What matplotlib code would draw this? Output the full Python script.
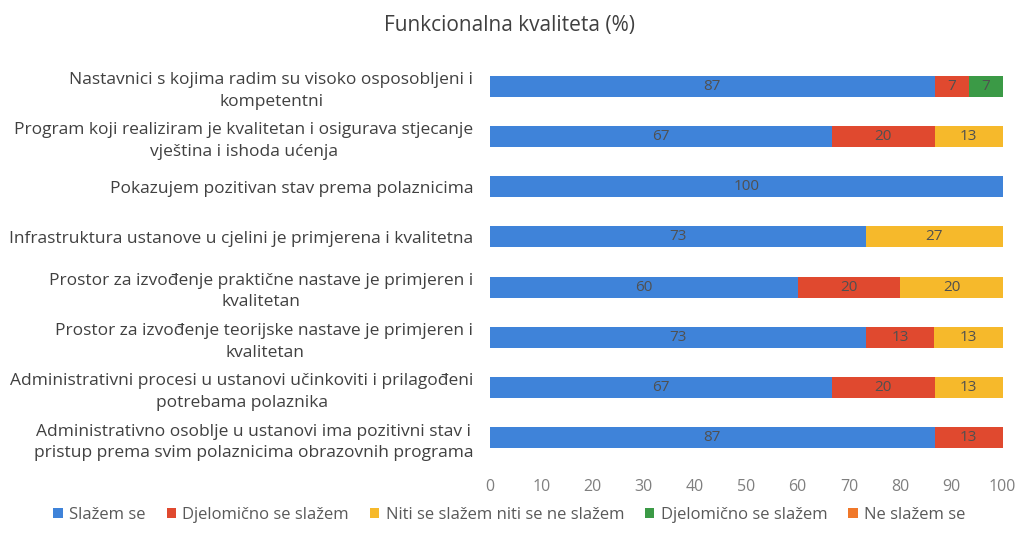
import matplotlib.pyplot as plt
import numpy as np

plt.rcParams['font.family'] = ['Open Sans', 'DejaVu Sans']

# categories, top to bottom
categories = [
    "Nastavnici s kojima radim su visoko osposobljeni i\nkompetentni",
    "Program koji realiziram je kvalitetan i osigurava stjecanje\nvještina i ishoda ućenja",
    "Pokazujem pozitivan stav prema polaznicima",
    "Infrastruktura ustanove u cjelini je primjerena i kvalitetna",
    "Prostor za izvođenje praktične nastave je primjeren i\nkvalitetan",
    "Prostor za izvođenje teorijske nastave je primjeren i\nkvalitetan",
    "Administrativni procesi u ustanovi učinkoviti i prilagođeni\npotrebama polaznika",
    "Administrativno osoblje u ustanovi ima pozitivni stav i\npristup prema svim polaznicima obrazovnih programa",
]

series_names = ["Slažem se", "Djelomično se slažem", "Niti se slažem niti se ne slažem",
                "Djelomično se slažem", "Ne slažem se"]
slazem = [86.7, 66.7, 100, 73.3, 60, 73.3, 66.7, 86.7]
djelomicno = [6.7, 20, 0, 0, 20, 13.3, 20, 13.3]
niti = [0, 13.3, 0, 26.7, 20, 13.4, 13.3, 0]
djelomicno2 = [6.7, 0, 0, 0, 0, 0, 0, 0]
ne_slazem = [0, 0, 0, 0, 0, 0, 0, 0]

colors = ['#3f83d9', '#e0492f', '#f6b92b', '#3b9a46', '#f0782a']
series = [slazem, djelomicno, niti, djelomicno2, ne_slazem]

fig = plt.figure(figsize=(10.19, 5.35), dpi=100)
ax = fig.add_axes([0.481, 0.135, 0.503, 0.76])

y = np.arange(len(categories))
left = np.zeros(len(categories))
for name, vals, c in zip(series_names, series, colors):
    vals = np.array(vals, dtype=float)
    bars = ax.barh(y, vals, left=left, height=0.42, color=c, label=name)
    for b, v in zip(bars, vals):
        if v > 0:
            ax.text(b.get_x() + b.get_width() / 2, b.get_y() + b.get_height() / 2,
                    f"{round(v):d}", ha='center', va='center', fontsize=11, color='#505050')
    left += vals

ax.set_xlim(0, 100)
ax.set_ylim(len(categories) - 0.5, -0.6)
ax.set_xticks(range(0, 101, 10))
ax.set_yticks(y)
ax.set_yticklabels(categories, fontsize=12.5, color='#404040', multialignment='center',
                   linespacing=1.45)
ax.tick_params(axis='both', length=0)
ax.tick_params(axis='x', labelcolor='#7f7f7f', labelsize=11.5, pad=12)
ax.tick_params(axis='y', pad=12)
for s in ax.spines.values():
    s.set_visible(False)

fig.suptitle("Funkcionalna kvaliteta (%)", x=0.5, y=0.972, fontsize=15, color='#404040')

fig.legend(loc='lower center', bbox_to_anchor=(0.5, -0.005), ncol=5, frameon=False,
           fontsize=12, handlelength=0.55, handleheight=0.55, handletextpad=0.4,
           columnspacing=1.25, labelcolor='#595959')

fig.savefig('out.png', dpi=100)
